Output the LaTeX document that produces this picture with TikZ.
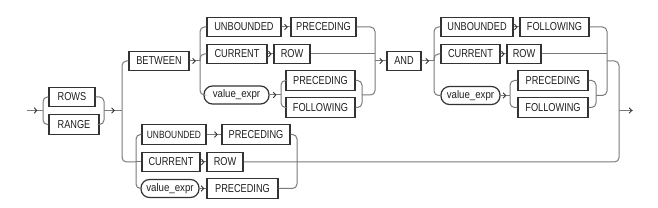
\documentclass[tikz,border=0pt]{standalone}
\usepackage{fontspec}
\newfontfamily\kwfont{Liberation Sans}[FakeStretch=0.8]
\newfontfamily\vxfont{Liberation Sans}[FakeStretch=0.88]
\usetikzlibrary{arrows.meta,decorations.markings}
\definecolor{linec}{HTML}{7A7A7A}
\definecolor{boxc}{HTML}{333333}
\definecolor{txtc}{HTML}{1E1E1E}
\tikzset{
  kw/.style={draw=boxc, line width=1.2pt, rectangle, inner sep=0pt, minimum height=19.5pt,
    text=txtc, font=\kwfont\fontsize{11.5}{12}\selectfont},
  vx/.style={draw=boxc, line width=1.2pt, rectangle, rounded corners=8.5pt, inner sep=0pt,
    minimum height=18pt, text=txtc, font=\vxfont\fontsize{11}{12}\selectfont},
  rail/.style={draw=linec, line width=1pt, rounded corners=4.5pt},
  arr/.style={postaction={decorate, decoration={markings,
    mark=at position #1 with {\arrow[boxc, line width=0.9pt]{Straight Barb[length=2.6pt,width=5.5pt]}}}}},
  arr/.default=0.7
}
\begin{document}
\begin{tikzpicture}[x=1pt,y=-1pt]
\useasboundingbox (0,0) rectangle (658,208);
% ROWS / RANGE
\node[kw, minimum width=46pt] (rows) at (72,97) {ROWS};
\node[kw, minimum width=50pt] (range) at (74,124.5) {RANGE};
% BETWEEN group
\node[kw, minimum width=60pt] (between) at (159,61) {BETWEEN};
\node[kw, minimum width=74pt] (ua) at (244,27) {UNBOUNDED};
\node[kw, minimum width=65pt] (pa) at (323.5,27) {PRECEDING};
\node[kw, minimum width=60pt] (ca) at (237,54) {CURRENT};
\node[kw, minimum width=36pt] (ra) at (292,54) {ROW};
\node[vx, minimum width=65pt] (va) at (236.5,95) {value\_expr};
\node[kw, minimum width=69pt] (pa2) at (320.5,80.5) {PRECEDING};
\node[kw, minimum width=69pt] (fa2) at (320.5,107.5) {FOLLOWING};
\node[kw, minimum width=34pt] (and) at (404,61) {AND};
\node[kw, minimum width=72pt] (ub) at (477,27) {UNBOUNDED};
\node[kw, minimum width=69pt] (fb) at (554.5,27) {FOLLOWING};
\node[kw, minimum width=59pt] (cb) at (470.5,54) {CURRENT};
\node[kw, minimum width=34pt] (rb) at (524,54) {ROW};
\node[vx, minimum width=59pt] (vb) at (470.5,95.5) {value\_expr};
\node[kw, minimum width=70pt] (pb) at (553,80.5) {PRECEDING};
\node[kw, minimum width=70pt] (fbb) at (553,107.5) {FOLLOWING};
% bottom group
\node[kw, minimum width=64pt, font=\kwfont\fontsize{10.5}{12}\selectfont] (uc) at (174,134.5) {UNBOUNDED};
\node[kw, minimum width=68pt] (pc) at (256,134.5) {PRECEDING};
\node[kw, minimum width=58pt] (cc) at (171,162) {CURRENT};
\node[kw, minimum width=36pt] (rc) at (225,162) {ROW};
\node[vx, minimum width=58pt] (vc) at (170,188.5) {value\_expr};
\node[kw, minimum width=71pt] (pc2) at (242.5,188.5) {PRECEDING};
% junction coordinates
\coordinate (start) at (27,110.5);
\coordinate (j1) at (43,110.5);
\coordinate (j2) at (104,110.5);
\coordinate (j3) at (122,110.5);
\coordinate (ja) at (200,61);
\coordinate (jva) at (281,95);
\coordinate (jva2) at (362,95);
\coordinate (jA) at (375,61);
\coordinate (jb) at (434,61);
\coordinate (jvb) at (510,95.5);
\coordinate (jvb2) at (596,95.5);
\coordinate (jB) at (607,61);
\coordinate (jo) at (619,61);
\coordinate (jex) at (619,110.5);
\coordinate (exit) at (633,110.5);
\coordinate (jc) at (136,162);
\coordinate (jc2) at (297,162);
% entry and ROWS/RANGE
\draw[rail, arr=0.65] (start) -- (j1);
\draw[rail] (j1) |- (rows.west);
\draw[rail] (j1) |- (range.west);
\draw[rail] (rows.east) -| (j2);
\draw[rail] (range.east) -| (j2);
\draw[rail, arr=0.6] (j2) -- (j3);
% split to BETWEEN and bottom
\draw[rail] (j3) |- (between.west);
\draw[rail] (j3) |- (jc);
% BETWEEN group A
\draw[rail, arr=0.6] (between.east) -- (ja);
\draw[rail] (ja) |- (ua.west);
\draw[rail] (ja) |- (ca.west);
\draw[rail] (ja) |- (va.west);
\draw[rail, arr] (ua.east) -- (pa.west);
\draw[rail, arr] (ca.east) -- (ra.west);
\draw[rail, arr=0.6] (va.east) -- (jva);
\draw[rail] (jva) |- (pa2.west);
\draw[rail] (jva) |- (fa2.west);
\draw[rail] (pa2.east) -| (jva2);
\draw[rail] (fa2.east) -| (jva2);
\draw[rail] (pa.east) -| (jA);
\draw[rail] (ra.east) -- (ra.east -| jA);
\draw[rail] (jva2) -| (jA);
\draw[rail, arr=0.7] (jA) -- (and.west);
% AND group B
\draw[rail, arr=0.6] (and.east) -- (jb);
\draw[rail] (jb) |- (ub.west);
\draw[rail] (jb) |- (cb.west);
\draw[rail] (jb) |- (vb.west);
\draw[rail, arr] (ub.east) -- (fb.west);
\draw[rail, arr] (cb.east) -- (rb.west);
\draw[rail, arr=0.6] (vb.east) -- (jvb);
\draw[rail] (jvb) |- (pb.west);
\draw[rail] (jvb) |- (fbb.west);
\draw[rail] (pb.east) -| (jvb2);
\draw[rail] (fbb.east) -| (jvb2);
\draw[rail] (fb.east) -| (jB);
\draw[rail] (rb.east) -- (rb.east -| jB);
\draw[rail] (jvb2) -| (jB);
% bottom group C
\draw[rail] (jc) |- (uc.west);
\draw[rail] (jc) -- (cc.west);
\draw[rail] (jc) |- (vc.west);
\draw[rail, arr=0.75] (uc.east) -- (pc.west);
\draw[rail, arr] (cc.east) -- (rc.west);
\draw[rail, arr] (vc.east) -- (pc2.west);
\draw[rail] (pc.east) -| (jc2);
\draw[rail] (pc2.east) -| (jc2);
% outer return and exit
\draw[rail] (rc.east) -| (jo) -- (jB);
\draw[rail, arr=0.95] (jex) -- (exit);
\end{tikzpicture}
\end{document}
